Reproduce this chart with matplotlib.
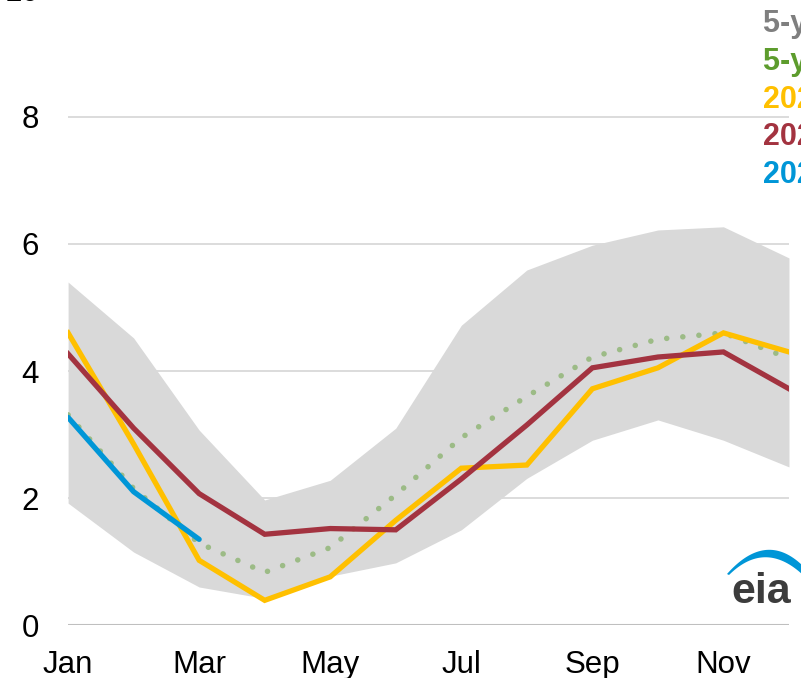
import matplotlib
matplotlib.use("Agg")
import matplotlib.pyplot as plt
from matplotlib.patches import Polygon
import numpy as np

plt.rcParams['font.family'] = ['Liberation Sans', 'DejaVu Sans']

# Datos
meses = ['Jan', 'Feb', 'Mar', 'Apr', 'May', 'Jun', 'Jul', 'Aug', 'Sep', 'Oct', 'Nov', 'Dec']
rango_alto = [5.40, 4.52, 3.07, 1.97, 2.28, 3.10, 4.72, 5.59, 5.98, 6.22, 6.27, 5.78]
rango_bajo = [1.92, 1.15, 0.60, 0.42, 0.77, 0.98, 1.50, 2.31, 2.91, 3.23, 2.91, 2.49]
promedio = [3.31, 2.15, 1.29, 0.83, 1.22, 2.05, 2.95, 3.60, 4.22, 4.50, 4.60, 4.20]
serie_2022 = [4.60, 2.85, 1.02, 0.39, 0.76, 1.65, 2.47, 2.52, 3.72, 4.05, 4.60, 4.30]
serie_2023 = [4.27, 3.10, 2.07, 1.43, 1.52, 1.50, 2.30, 3.15, 4.05, 4.22, 4.30, 3.72]
serie_2024 = [3.27, 2.10, 1.35]

etiquetas_leyenda = ['5-year range', '5-year average', '2022', '2023', '2024']
colores_leyenda = ['#7f7f7f', '#5d9c2d', '#ffc000', '#a33340', '#0096d7']

x = np.arange(len(meses))

fig = plt.figure(figsize=(8.01, 6.78), dpi=100)
ax = fig.add_axes([0.085, 0.078, 0.9, 0.937])

ax.fill_between(x, rango_bajo, rango_alto, color='#d9d9d9', lw=0, zorder=2)
ax.plot(x, promedio, color='#9cbb86', lw=4, linestyle=(0, (0.01, 2.9)),
        dash_capstyle='round', zorder=3)
ax.plot(x, serie_2022, color='#ffc000', lw=3.8, zorder=4, solid_joinstyle='miter')
ax.plot(x, serie_2023, color='#a33340', lw=3.8, zorder=5, solid_joinstyle='miter')
ax.plot(x[:len(serie_2024)], serie_2024, color='#0096d7', lw=3.8, zorder=6,
        solid_capstyle='round')

ax.set_xlim(0, 11)
ax.set_ylim(0, 10)
ax.set_yticks([0, 2, 4, 6, 8, 10])
ax.set_xticks(x[::2])
ax.set_xticklabels(meses[::2])
ax.tick_params(length=0, labelsize=22.5, pad=18)
ax.tick_params(axis='y', pad=21)
ax.grid(axis='y', color='#d9d9d9', lw=1.3, zorder=1)
ax.set_axisbelow(True)
for s in ax.spines.values():
    s.set_visible(False)
ax.axhline(0, color='#bfbfbf', lw=1.5, zorder=1)

# Leyenda como texto de color (cortada en el borde derecho)
for i, (etq, col) in enumerate(zip(etiquetas_leyenda, colores_leyenda)):
    fig.text(763 / 801, 1 - (32 + i * 37.8) / 678, etq, color=col,
             fontsize=22, fontweight='bold', va='baseline', ha='left')

# Logo eia aproximado
fig.text(761 / 801, 1 - 603 / 678, 'eia', color='#3c3c3c', fontsize=31,
         fontweight='bold', ha='center', va='baseline')
logo = fig.add_axes([0, 0, 1, 1])
logo.axis('off')
logo.set_xlim(0, 801)
logo.set_ylim(678, 0)
t = np.linspace(0, 1, 40)[:, None]


def bezier(p0, c, p2):
    p0, c, p2 = map(np.array, (p0, c, p2))
    return (1 - t) ** 2 * p0 + 2 * (1 - t) * t * c + t ** 2 * p2


exterior = bezier((727, 574), (766, 530), (803, 566))
interior = bezier((803, 575), (765, 539.5), (729, 575))
logo.add_patch(Polygon(np.vstack([exterior, interior]), closed=True,
                       color='#0096d7', lw=0))

fig.savefig('out.png', dpi=100)
